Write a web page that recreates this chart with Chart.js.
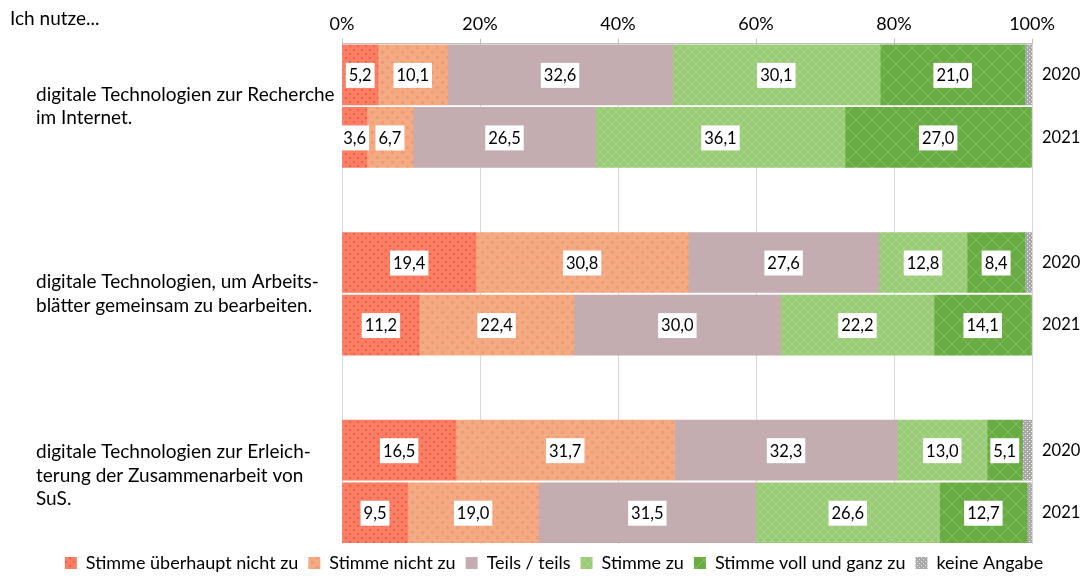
<!DOCTYPE html>
<html lang="de">
<head>
    <meta charset="UTF-8">
    <title>Ich nutze...</title>
    <script src="https://cdn.jsdelivr.net/npm/chart.js@4.4.1/dist/chart.umd.js"></script>
    <style>
        html, body { margin: 0; padding: 0; background: #fff; }
        #wrap { width: 1081px; height: 582px; position: relative; }
    </style>
</head>
<body>
<div id="wrap"><canvas id="chart"></canvas></div>
<script>
    // data (one entry per bar, top to bottom)
    const years = ['2020', '2021'];
    const groupLabels = [
        ['digitale Technologien zur Recherche', 'im Internet.'],
        ['digitale Technologien, um Arbeits-', 'blätter gemeinsam zu bearbeiten.'],
        ['digitale Technologien zur Erleich-', 'terung der Zusammenarbeit von', 'SuS.']
    ];
    const seriesNames = ['Stimme überhaupt nicht zu', 'Stimme nicht zu', 'Teils / teils', 'Stimme zu', 'Stimme voll und ganz zu', 'keine Angabe'];
    const ueberhauptNicht = [5.2, 3.6, 19.4, 11.2, 16.5, 9.5];
    const nichtZu        = [10.1, 6.7, 30.8, 22.4, 31.7, 19.0];
    const teilsTeils     = [32.6, 26.5, 27.6, 30.0, 32.3, 31.5];
    const stimmeZu       = [30.1, 36.1, 12.8, 22.2, 13.0, 26.6];
    const vollUndGanz    = [21.0, 27.0, 8.4, 14.1, 5.1, 12.7];
    const keineAngabe    = [1.0, 0.1, 1.0, 0.1, 1.4, 0.7];
    const xTicks = [0, 20, 40, 60, 80, 100];

    // 3 groups of 2 bars with an empty slot between groups
    const slots = [];
    groupLabels.forEach((g, gi) => {
        if (gi > 0) slots.push(null);
        years.forEach((y, yi) => slots.push(gi * 2 + yi));
    });
    const categories = slots.map(s => s === null ? '' : years[s % 2]);
    const spread = arr => slots.map(s => s === null ? null : arr[s]);

    function makePattern(base, draw, size) {
        const c = document.createElement('canvas');
        c.width = size; c.height = size;
        const x = c.getContext('2d');
        x.fillStyle = base;
        x.fillRect(0, 0, size, size);
        draw(x);
        return x.createPattern(c, 'repeat');
    }
    const patRed = makePattern('#fa7d64', x => {
        x.fillStyle = '#e6624a';
        x.fillRect(1, 1, 2, 2); x.fillRect(5, 5, 2, 2);
    }, 8);
    const patOrange = makePattern('#f4ab84', x => {
        x.fillStyle = '#ef9b74';
        x.fillRect(1, 1, 3, 3); x.fillRect(6, 6, 3, 3);
    }, 10);
    const patMauve = makePattern('#c2adb2', x => {
        x.fillStyle = '#d0a9a6';
        x.fillRect(0, 0, 1, 1); x.fillRect(2, 2, 1, 1);
    }, 4);
    const patLight = makePattern('#9acc77', x => {
        x.strokeStyle = '#aad68b'; x.lineWidth = 1;
        x.beginPath(); x.moveTo(0, 0); x.lineTo(8, 8); x.moveTo(8, 0); x.lineTo(0, 8); x.stroke();
    }, 8);
    const patDark = makePattern('#69ac44', x => {
        x.strokeStyle = '#84bf62'; x.lineWidth = 1;
        x.beginPath(); x.moveTo(0, 16); x.lineTo(16, 0); x.moveTo(0, 0); x.lineTo(16, 16); x.stroke();
    }, 16);
    const patGray = makePattern('#aaaaaa', x => {
        x.fillStyle = '#e8e8e8';
        x.fillRect(1, 1, 1, 1); x.fillRect(3, 3, 1, 1);
    }, 4);

    const seriesData = [ueberhauptNicht, nichtZu, teilsTeils, stimmeZu, vollUndGanz, keineAngabe];
    const fills = [patRed, patOrange, patMauve, patLight, patDark, patGray];

    const datasets = seriesNames.map((name, i) => ({
        label: name,
        data: spread(seriesData[i]),
        backgroundColor: fills[i],
        borderWidth: 0,
        barThickness: 60,
        showValue: i < 5
    }));

    const FONT = 'Lato, "Open Sans", sans-serif';

    const textPlugin = {
        id: 'texts',
        afterDatasetsDraw(chart) {
            const ctx = chart.ctx;
            const yScale = chart.scales.y;
            ctx.save();
            ctx.textBaseline = 'middle';
            // value boxes
            ctx.font = '16.5px ' + FONT;
            chart.data.datasets.forEach((ds, di) => {
                if (!ds.showValue) return;
                const meta = chart.getDatasetMeta(di);
                meta.data.forEach((bar, idx) => {
                    const v = ds.data[idx];
                    if (v === null || v === undefined) return;
                    const txt = v.toFixed(1).replace('.', ',');
                    const w = ctx.measureText(txt).width;
                    const cx = (bar.x + bar.base) / 2;
                    const cy = bar.y;
                    ctx.fillStyle = '#fff';
                    ctx.fillRect(cx - w / 2 - 3, cy - 12, w + 6, 25);
                    ctx.fillStyle = '#000';
                    ctx.textAlign = 'center';
                    ctx.fillText(txt, cx, cy + 1);
                });
            });
            ctx.textAlign = 'left';
            // year labels on the right
            ctx.font = '16.5px ' + FONT;
            categories.forEach((c, i) => {
                if (!c) return;
                ctx.fillText(c, chart.chartArea.right + 10, yScale.getPixelForValue(i));
            });
            // group labels on the left
            ctx.font = '19px ' + FONT;
            let slot = 0;
            groupLabels.forEach(lines => {
                const y0 = yScale.getPixelForValue(slot);
                const y1 = yScale.getPixelForValue(slot + 1);
                const mid = (y0 + y1) / 2 + (lines.length > 2 ? -6 : 0);
                const lh = 23.5;
                lines.forEach((ln, li) => {
                    ctx.fillText(ln, 36, mid + (li - (lines.length - 1) / 2) * lh);
                });
                slot += 3;
            });
            // header
            ctx.fillText('Ich nutze...', 10, 19);
            ctx.restore();
        }
    };

    new Chart(document.getElementById('chart'), {
        type: 'bar',
        data: { labels: categories, datasets: datasets },
        options: {
            indexAxis: 'y',
            responsive: true,
            maintainAspectRatio: false,
            animation: false,
            layout: { padding: { left: 27, right: 0, top: 9, bottom: 0 } },
            scales: {
                x: {
                    position: 'top',
                    stacked: true,
                    min: 0,
                    max: 100,
                    afterBuildTicks: axis => { axis.ticks = xTicks.map(v => ({ value: v })); },
                    ticks: {
                        callback: v => v + '%',
                        color: '#000',
                        font: { family: FONT, size: 18 },
                        padding: 4
                    },
                    grid: { color: '#d9d9d9', tickLength: 5, tickColor: '#bfbfbf' },
                    border: { color: '#bfbfbf' }
                },
                y: {
                    stacked: true,
                    display: true,
                    ticks: { display: false },
                    grid: { display: false },
                    border: { display: false },
                    afterFit: axis => { axis.width = 315; }
                },
                yRight: {
                    type: 'linear',
                    position: 'right',
                    display: true,
                    ticks: { display: false },
                    grid: { display: false },
                    border: { display: false },
                    afterFit: axis => { axis.width = 49; }
                }
            },
            plugins: {
                legend: {
                    position: 'bottom',
                    labels: {
                        color: '#000',
                        font: { family: FONT, size: 18 },
                        boxWidth: 12,
                        boxHeight: 12,
                        padding: 10
                    }
                },
                tooltip: { enabled: false }
            }
        },
        plugins: [textPlugin]
    });
</script>
</body>
</html>
